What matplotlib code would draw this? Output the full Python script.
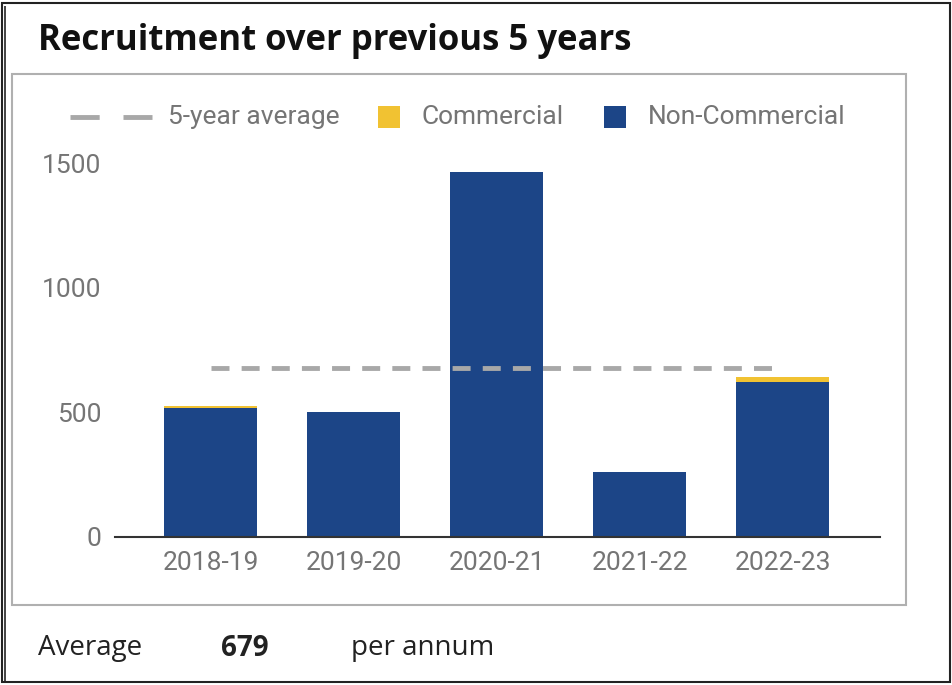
#!/usr/bin/env python3
"""
Recruitment over previous 5 years - stacked bar chart
"""
import matplotlib.pyplot as plt
from matplotlib.patches import Rectangle
from matplotlib.lines import Line2D
import numpy as np

# Data
years = ['2018-19', '2019-20', '2020-21', '2021-22', '2022-23']
non_commercial = [518, 500, 1465, 262, 622]
commercial = [6, 0, 0, 0, 20]
average = 679
y_ticks = [0, 500, 1000, 1500]
legend_labels = ['5-year average', 'Commercial', 'Non-Commercial']

navy = '#1c4587'
yellow = '#f1c232'
dash_grey = '#a8a8a8'
grey_text = '#757575'
dash_style = (0, (3.7, 2.5))

fig = plt.figure(figsize=(9.53, 6.85), dpi=100)
W, H = 953, 685

def px(x0, y0, x1, y1):
    # pixel box (top-left origin) -> figure fraction rect
    return [x0 / W, 1 - y1 / H, (x1 - x0) / W, (y1 - y0) / H]

def box(x0, y0, x1, y1, **kw):
    r = px(x0, y0, x1, y1)
    fig.patches.append(Rectangle((r[0], r[1]), r[2], r[3], transform=fig.transFigure, **kw))

# outer frame (double line on left)
box(2, 3, 950, 682, fill=False, edgecolor='#222222', linewidth=1.5)
box(5.5, 6, 5.5, 682, fill=False, edgecolor='#222222', linewidth=1.2)
# inner panel
box(12, 74, 906, 605, fill=False, edgecolor='#b0b0b0', linewidth=1.5)

fig.text(38 / W, 1 - 41 / H, 'Recruitment over previous 5 years', fontsize=25,
         fontweight='bold', family='Open Sans', va='center', ha='left', color='#111111')

ax = fig.add_axes(px(115, 150.6, 880, 537))
x = np.arange(len(years))
width = 0.65
ax.bar(x, non_commercial, width, color=navy)
ax.bar(x, commercial, width, bottom=non_commercial, color=yellow)
ax.plot([x[0], x[-1]], [average, average], color=dash_grey, linewidth=3.5,
        linestyle=dash_style)

ax.set_xlim(-0.67, 4.68)
ax.set_ylim(0, 1550)
ax.set_yticks(y_ticks)
ax.set_xticks(x)
ax.set_xticklabels(years)
for s in ['top', 'right', 'left']:
    ax.spines[s].set_visible(False)
ax.spines['bottom'].set_color('#333333')
ax.spines['bottom'].set_linewidth(1.5)
ax.tick_params(axis='both', length=0, labelsize=19, labelcolor=grey_text)
ax.tick_params(axis='x', pad=10)
ax.tick_params(axis='y', pad=10)
for lbl in ax.get_xticklabels() + ax.get_yticklabels():
    lbl.set_family('Roboto')

# legend drawn by hand so the patches stay square
ly = 1 - 117 / H
fig.lines.append(Line2D([70 / W, 152 / W], [ly, ly], transform=fig.transFigure,
                        color=dash_grey, linewidth=3.5, linestyle=(0, (6.0, 4.9))))
box(378, 106, 400, 128, facecolor=yellow, edgecolor='none')
box(604, 106, 626, 128, facecolor=navy, edgecolor='none')
for tx, label in zip([168, 422, 648], legend_labels):
    fig.text(tx / W, ly, label, fontsize=19, family='Roboto', color=grey_text,
             va='center', ha='left')

fig.text(38 / W, 1 - 648 / H, 'Average', fontsize=20, family='Open Sans',
         va='center', color='#222222')
fig.text(221 / W, 1 - 648 / H, str(average), fontsize=20, family='Open Sans',
         fontweight='bold', va='center', color='#222222')
fig.text(351 / W, 1 - 648 / H, 'per annum', fontsize=20, family='Open Sans',
         va='center', color='#222222')

plt.savefig('out.png', dpi=100)
